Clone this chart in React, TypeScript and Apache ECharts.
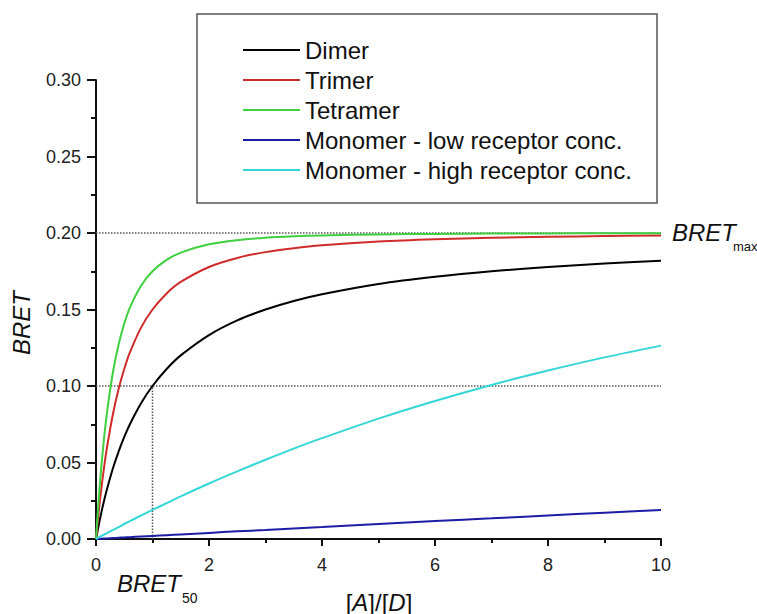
import React, { useEffect, useRef } from "react";
import * as echarts from "echarts";

const X = [0, 0.05, 0.1, 0.15, 0.2, 0.3, 0.4, 0.5, 0.6, 0.8, 1, 1.25, 1.5, 2, 2.5, 3, 3.5, 4, 5, 6, 7, 8, 9, 10];
const dimer = [0, 0.0095, 0.0182, 0.0261, 0.0333, 0.0462, 0.0571, 0.0667, 0.075, 0.0889, 0.1, 0.1111, 0.12, 0.1333, 0.1429, 0.15, 0.1556, 0.16, 0.1667, 0.1714, 0.175, 0.1778, 0.18, 0.1818];
const trimer = [0, 0.0186, 0.0347, 0.0488, 0.0611, 0.0817, 0.098, 0.1111, 0.1219, 0.1383, 0.15, 0.1605, 0.168, 0.1778, 0.1837, 0.1875, 0.1901, 0.192, 0.1944, 0.1959, 0.1969, 0.1975, 0.198, 0.1983];
const tetramer = [0, 0.0272, 0.0497, 0.0685, 0.0843, 0.109, 0.1271, 0.1407, 0.1512, 0.1657, 0.175, 0.1824, 0.1872, 0.1926, 0.1953, 0.1969, 0.1978, 0.1984, 0.1991, 0.1994, 0.1996, 0.1997, 0.1998, 0.1998];
const monoLow = [0, 0.0001, 0.0002, 0.0003, 0.0004, 0.0006, 0.0008, 0.001, 0.0012, 0.0016, 0.002, 0.0025, 0.003, 0.004, 0.005, 0.0059, 0.0069, 0.0078, 0.0098, 0.0117, 0.0135, 0.0154, 0.0172, 0.019];
const monoHigh = [0, 0.001, 0.002, 0.003, 0.004, 0.0059, 0.0078, 0.0098, 0.0117, 0.0154, 0.019, 0.0235, 0.0279, 0.0363, 0.0442, 0.0518, 0.0591, 0.0659, 0.0787, 0.0902, 0.1007, 0.1101, 0.1187, 0.1264];

const seriesNames = [
  "Dimer",
  "Trimer",
  "Tetramer",
  "Monomer - low receptor conc.",
  "Monomer - high receptor conc.",
];
const seriesColors = ["#000000", "#cf2b2b", "#3fd03f", "#1c1ca6", "#35d6d6"];
const seriesData = [dimer, trimer, tetramer, monoLow, monoHigh];

const bretMax = 0.2;
const bretHalf = 0.1;
const bret50X = 1;
const xMin = 0;
const xMax = 10;

const FONT = "'Liberation Sans', Arial, sans-serif";

export default function App() {
  const ref = useRef<HTMLDivElement>(null);
  useEffect(() => {
    if (!ref.current) return;
    const chart = echarts.init(ref.current, undefined, { renderer: "svg" });
    const refStyle = { color: "#555", width: 1.5, type: "dotted" as const };
    const refSeries = [
      { data: [[xMin, bretMax], [xMax, bretMax]] },
      { data: [[xMin, bretHalf], [xMax, bretHalf]] },
      { data: [[bret50X, 0], [bret50X, bretHalf]] },
    ].map((r, i) => ({
      name: "ref" + i,
      type: "line",
      data: r.data,
      showSymbol: false,
      symbol: "none",
      silent: true,
      lineStyle: refStyle,
      z: 1,
    }));
    const mainSeries = seriesNames.map((n, i) => ({
      name: n,
      type: "line",
      data: X.map((x, j) => [x, seriesData[i][j]]),
      smooth: 0.3,
      symbol: "none",
      showSymbol: false,
      color: seriesColors[i],
      lineStyle: { color: seriesColors[i], width: 2 },
      z: 3,
    }));
    chart.setOption({
      animation: false,
      textStyle: { fontFamily: FONT },
      grid: { left: 96, top: 80, right: 96, bottom: 75, containLabel: false },
      legend: {
        data: seriesNames,
        orient: "vertical",
        left: 243,
        top: 38,
        itemWidth: 57,
        itemHeight: 2,
        itemGap: 6,
        icon: "rect",
        padding: 0,
        textStyle: { fontSize: 24, color: "#111", fontFamily: FONT, lineHeight: 24 },
      },
      xAxis: {
        type: "value",
        min: xMin,
        max: xMax,
        interval: 2,
        axisLine: { show: true, lineStyle: { color: "#111", width: 2 } },
        axisTick: { show: true, length: 7, lineStyle: { color: "#111", width: 2 } },
        minorTick: { show: true, splitNumber: 2, length: 4, lineStyle: { color: "#111", width: 2 } },
        splitLine: { show: false },
        minorSplitLine: { show: false },
        axisLabel: { fontSize: 18, color: "#222", margin: 17, fontFamily: FONT },
      },
      yAxis: {
        type: "value",
        min: 0,
        max: 0.3,
        interval: 0.05,
        axisLine: { show: true, lineStyle: { color: "#111", width: 2 } },
        axisTick: { show: true, length: 9, lineStyle: { color: "#111", width: 2 } },
        minorTick: { show: true, splitNumber: 2, length: 5, lineStyle: { color: "#111", width: 2 } },
        splitLine: { show: false },
        minorSplitLine: { show: false },
        axisLabel: {
          fontSize: 18,
          color: "#222",
          margin: 15,
          fontFamily: FONT,
          formatter: (v: number) => v.toFixed(2),
        },
      },
      graphic: [
        {
          type: "rect",
          shape: { x: 197, y: 14, width: 460, height: 189 },
          style: { fill: "none", stroke: "#555", lineWidth: 1.5 },
          z: 0,
        },
        {
          type: "text",
          x: 21,
          y: 323,
          rotation: Math.PI / 2,
          style: {
            text: "BRET",
            font: "italic 24px " + FONT,
            fill: "#111",
            align: "center",
            verticalAlign: "middle",
          },
        },
        {
          type: "text",
          x: 379,
          y: 602,
          style: {
            text: "[{i|A}]/[{i|D}]",
            font: "24px " + FONT,
            fill: "#111",
            align: "center",
            verticalAlign: "middle",
            rich: { i: { fontStyle: "italic", fontSize: 24, fontFamily: FONT, fill: "#111" } },
          },
        },
        {
          type: "text",
          x: 672,
          y: 232,
          style: { text: "BRET", font: "italic 24px " + FONT, fill: "#111", align: "left", verticalAlign: "middle" },
        },
        {
          type: "text",
          x: 733,
          y: 246,
          style: { text: "max", font: "13px " + FONT, fill: "#111", align: "left", verticalAlign: "middle" },
        },
        {
          type: "text",
          x: 117,
          y: 583,
          style: { text: "BRET", font: "italic 24px " + FONT, fill: "#111", align: "left", verticalAlign: "middle" },
        },
        {
          type: "text",
          x: 182,
          y: 598,
          style: { text: "50", font: "14px " + FONT, fill: "#111", align: "left", verticalAlign: "middle" },
        },
      ],
      series: [...refSeries, ...mainSeries],
    });
    return () => chart.dispose();
  }, []);
  return (
    <div
      ref={ref}
      style={{ position: "fixed", left: 0, top: 0, width: 757, height: 614, background: "#fff" }}
    />
  );
}
